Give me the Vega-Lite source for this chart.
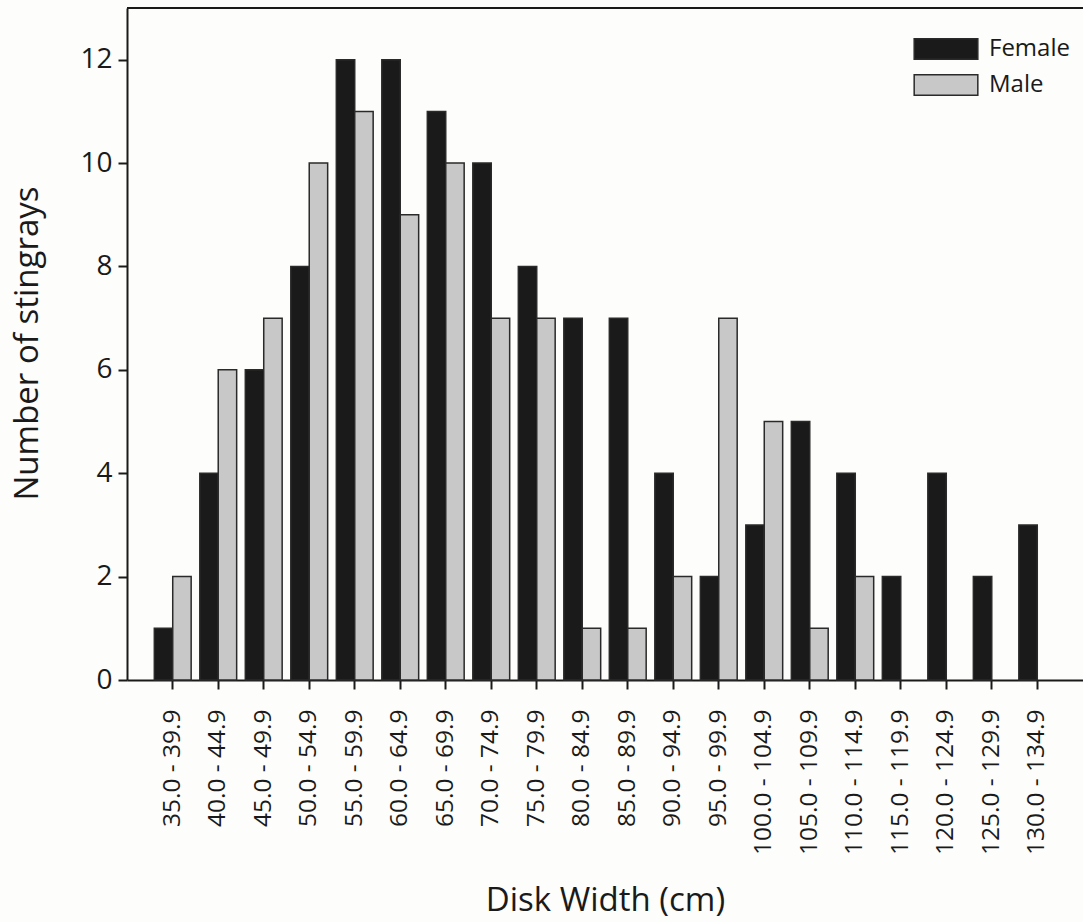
{
  "$schema": "https://vega.github.io/schema/vega-lite/v6.json",
  "width": 956,
  "height": 672,
  "autosize": {"type": "none"},
  "padding": {"left": 127, "top": 8, "right": 0, "bottom": 242},
  "background": "#fdfdfb",
  "config": {
    "view": {"stroke": null},
    "font": "Open Sans",
    "axis": {"labelFont": "Open Sans", "titleFont": "Open Sans", "labelColor": "#1a1a1a", "titleColor": "#1a1a1a", "titleFontWeight": "normal", "grid": false, "domainColor": "#1a1a1a", "tickColor": "#1a1a1a", "domainWidth": 2, "tickWidth": 2}
  },
  "datasets": {
    "counts": [
      {"bin": "35.0 - 39.9", "sex": "Female", "n": 1}, {"bin": "35.0 - 39.9", "sex": "Male", "n": 2},
      {"bin": "40.0 - 44.9", "sex": "Female", "n": 4}, {"bin": "40.0 - 44.9", "sex": "Male", "n": 6},
      {"bin": "45.0 - 49.9", "sex": "Female", "n": 6}, {"bin": "45.0 - 49.9", "sex": "Male", "n": 7},
      {"bin": "50.0 - 54.9", "sex": "Female", "n": 8}, {"bin": "50.0 - 54.9", "sex": "Male", "n": 10},
      {"bin": "55.0 - 59.9", "sex": "Female", "n": 12}, {"bin": "55.0 - 59.9", "sex": "Male", "n": 11},
      {"bin": "60.0 - 64.9", "sex": "Female", "n": 12}, {"bin": "60.0 - 64.9", "sex": "Male", "n": 9},
      {"bin": "65.0 - 69.9", "sex": "Female", "n": 11}, {"bin": "65.0 - 69.9", "sex": "Male", "n": 10},
      {"bin": "70.0 - 74.9", "sex": "Female", "n": 10}, {"bin": "70.0 - 74.9", "sex": "Male", "n": 7},
      {"bin": "75.0 - 79.9", "sex": "Female", "n": 8}, {"bin": "75.0 - 79.9", "sex": "Male", "n": 7},
      {"bin": "80.0 - 84.9", "sex": "Female", "n": 7}, {"bin": "80.0 - 84.9", "sex": "Male", "n": 1},
      {"bin": "85.0 - 89.9", "sex": "Female", "n": 7}, {"bin": "85.0 - 89.9", "sex": "Male", "n": 1},
      {"bin": "90.0 - 94.9", "sex": "Female", "n": 4}, {"bin": "90.0 - 94.9", "sex": "Male", "n": 2},
      {"bin": "95.0 - 99.9", "sex": "Female", "n": 2}, {"bin": "95.0 - 99.9", "sex": "Male", "n": 7},
      {"bin": "100.0 - 104.9", "sex": "Female", "n": 3}, {"bin": "100.0 - 104.9", "sex": "Male", "n": 5},
      {"bin": "105.0 - 109.9", "sex": "Female", "n": 5}, {"bin": "105.0 - 109.9", "sex": "Male", "n": 1},
      {"bin": "110.0 - 114.9", "sex": "Female", "n": 4}, {"bin": "110.0 - 114.9", "sex": "Male", "n": 2},
      {"bin": "115.0 - 119.9", "sex": "Female", "n": 2}, {"bin": "115.0 - 119.9", "sex": "Male", "n": 0},
      {"bin": "120.0 - 124.9", "sex": "Female", "n": 4}, {"bin": "120.0 - 124.9", "sex": "Male", "n": 0},
      {"bin": "125.0 - 129.9", "sex": "Female", "n": 2}, {"bin": "125.0 - 129.9", "sex": "Male", "n": 0},
      {"bin": "130.0 - 134.9", "sex": "Female", "n": 3}, {"bin": "130.0 - 134.9", "sex": "Male", "n": 0}
    ],
    "top": [{"v": 13}]
  },
  "layer": [
    {
      "data": {"name": "counts"},
      "transform": [{"filter": "datum.n > 0"}],
      "mark": {"type": "bar", "strokeWidth": 1.5, "stroke": "#2a2a2a"},
      "encoding": {
        "x": {
          "field": "bin", "type": "nominal", "sort": null,
          "scale": {"paddingInner": 0.19, "paddingOuter": 0.6},
          "axis": {"title": "Disk Width (cm)", "labelAngle": -90, "labelFontSize": 24.5, "titleFontSize": 33, "tickSize": 9, "labelPadding": 20, "titlePadding": 30, "labelBaseline": "middle", "labelAlign": "right"}
        },
        "xOffset": {"field": "sex", "type": "nominal", "sort": ["Female", "Male"], "scale": {"paddingInner": 0, "paddingOuter": 0}},
        "y": {
          "field": "n", "type": "quantitative",
          "scale": {"domain": [0, 13], "nice": false},
          "axis": {"title": "Number of stingrays", "values": [0, 2, 4, 6, 8, 10, 12], "labelFontSize": 28, "titleFontSize": 33, "tickSize": 9, "labelPadding": 6, "titlePadding": 35, "titleY": 335}
        },
        "color": {
          "field": "sex", "type": "nominal",
          "scale": {"domain": ["Female", "Male"], "range": ["#1a1a1a", "#c8c8c8"]},
          "legend": {"title": null, "orient": "none", "legendX": 797, "legendY": 19, "labelFontSize": 24, "labelFont": "Open Sans", "labelColor": "#1a1a1a", "symbolType": "M-1.5,-0.48H1.5V0.48H-1.5Z", "symbolSize": 1800, "symbolStrokeColor": "#2a2a2a", "symbolStrokeWidth": 1.5, "rowPadding": -6, "labelOffset": 21}
        }
      }
    },
    {
      "data": {"name": "top"},
      "mark": {"type": "rule", "color": "#1a1a1a", "strokeWidth": 2},
      "encoding": {"y": {"field": "v", "type": "quantitative"}}
    }
  ]
}
